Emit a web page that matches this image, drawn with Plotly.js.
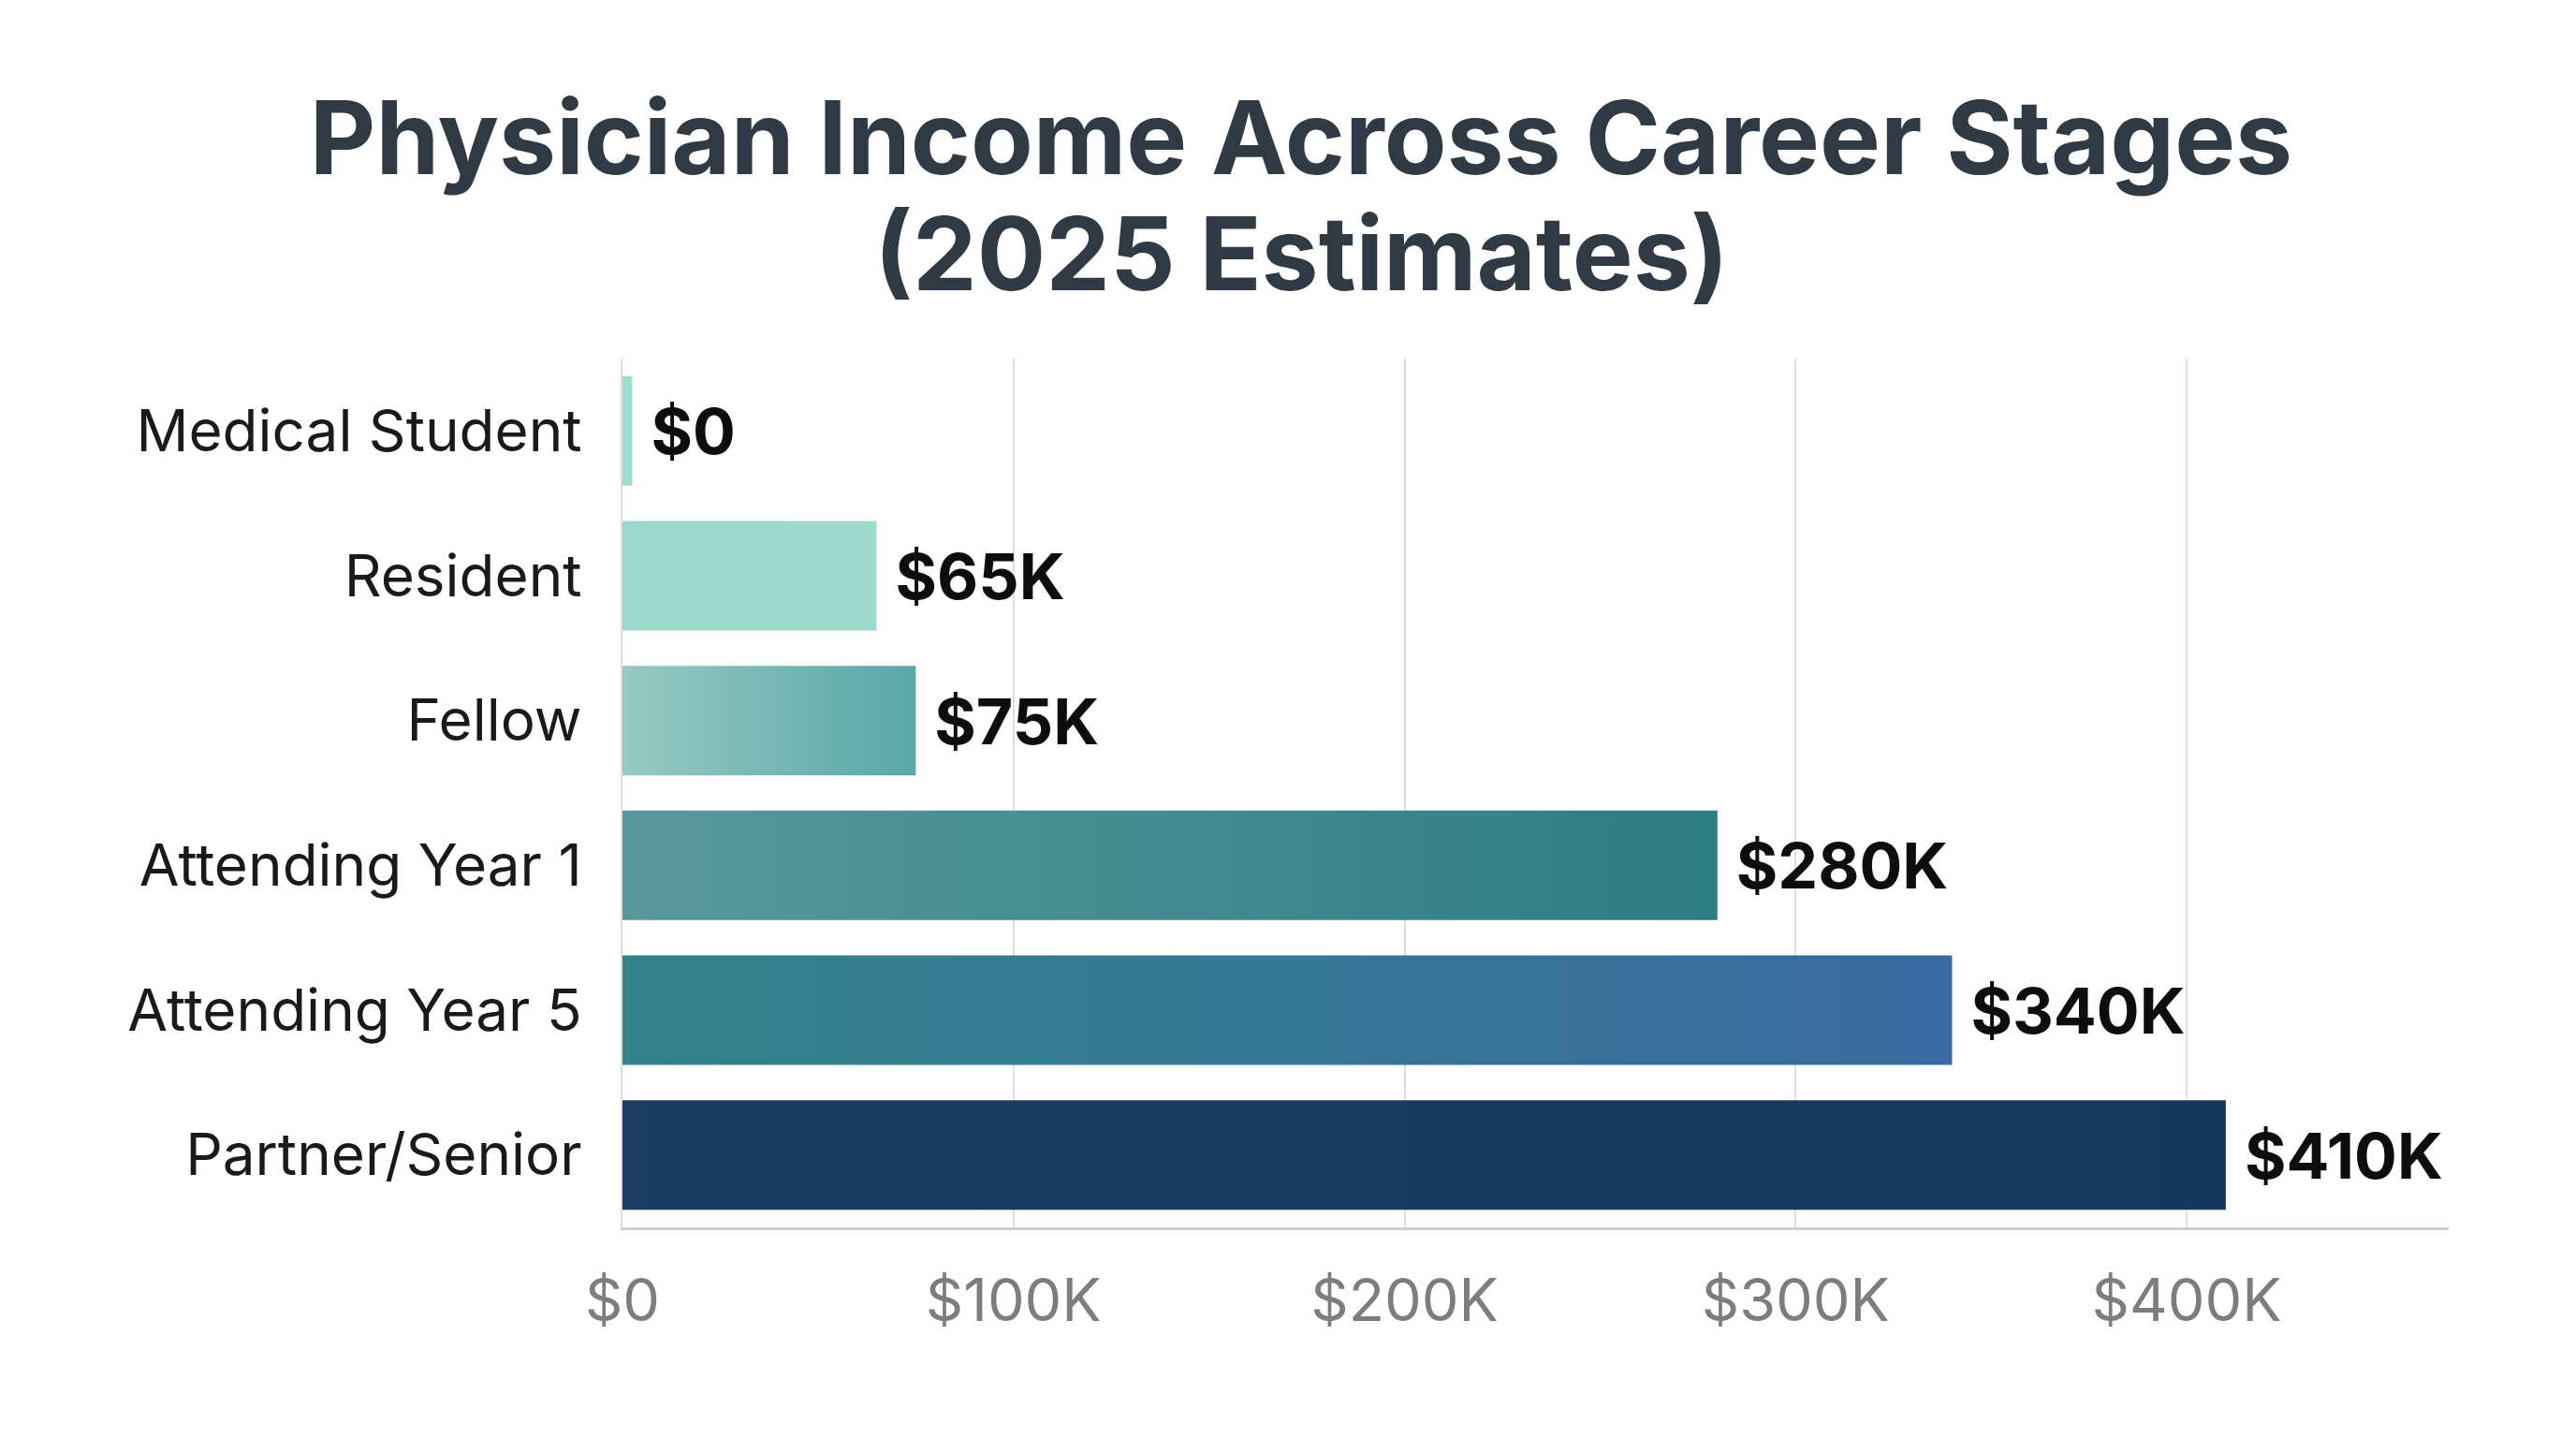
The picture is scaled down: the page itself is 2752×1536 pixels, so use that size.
<!DOCTYPE html>
<html>
<head>
<meta charset="utf-8">
<script src="https://cdn.plot.ly/plotly-3.0.1.min.js"></script>
<style>
html,body{margin:0;padding:0;background:#ffffff;}
#chart{width:2752px;height:1536px;}
</style>
</head>
<body>
<div id="chart"></div>
<script>
const stages = ["Medical Student", "Resident", "Fellow", "Attending Year 1", "Attending Year 5", "Partner/Senior"];
const incomes = [0, 65000, 75000, 280000, 340000, 410000];
const incomeLabels = ["$0", "$65K", "$75K", "$280K", "$340K", "$410K"];
const barColors = ["#9ddbcc", "#9cdacc", "#76b8b5", "#448c90", "#35798f", "#183a5c"];
const gradientStarts = ["#9edccf", "#9bd9ca", "#96c9c3", "#58989c", "#33838a", "#1a3c5e"];
const gradientEnds = ["#9edccf", "#a0dbcd", "#58a8a7", "#2d7d84", "#396ba1", "#16395b"];
const tickValues = [0, 100000, 200000, 300000, 400000];
const tickLabels = ["$0", "$100K", "$200K", "$300K", "$400K"];
const titleLine1 = "Physician Income Across Career Stages";
const titleLine2 = "(2025 Estimates)";

// a zero income is still shown as a thin sliver, as in the reference
const minVisible = 2500;
const barLengths = incomes.map(v => Math.max(v, minVisible));

const FONT = "Inter, 'Noto Sans', sans-serif";
const W = 2752, H = 1536;
const M = {l: 665, r: 136, t: 383, b: 225};
const TITLE_CX = 1390;

const trace = {
  type: "bar",
  orientation: "h",
  y: stages,
  x: barLengths,
  text: incomeLabels.map(t => "\u2005" + t),
  textposition: "outside",
  constraintext: "none",
  cliponaxis: false,
  textfont: {family: FONT, size: 68, color: "#0d0d0d", weight: 700},
  marker: {color: barColors, line: {width: 0}},
  hoverinfo: "none"
};

const layout = {
  width: W,
  height: H,
  paper_bgcolor: "#ffffff",
  plot_bgcolor: "#ffffff",
  margin: {l: M.l, r: M.r, t: M.t, b: M.b, pad: 0},
  bargap: 0.243,
  showlegend: false,
  title: {
    text: titleLine1,
    x: TITLE_CX / W,
    xanchor: "center",
    yref: "container",
    y: 0.904,
    yanchor: "middle",
    font: {family: FONT, size: 109, color: "#2f3a44", weight: 700}
  },
  annotations: [{
    text: titleLine2,
    xref: "paper", yref: "paper",
    x: (TITLE_CX - M.l) / (W - M.l - M.r),
    y: (H - M.b - 270) / (H - M.t - M.b),
    xanchor: "center", yanchor: "middle",
    showarrow: false,
    font: {family: FONT, size: 109, color: "#2f3a44", weight: 700}
  }],
  xaxis: {
    range: [0, 467000],
    tickvals: tickValues,
    ticktext: tickLabels,
    showgrid: true,
    gridcolor: "#dedede",
    gridwidth: 2,
    zeroline: false,
    showline: true,
    linecolor: "#d0d0d0",
    linewidth: 3,
    ticks: "",
    ticklabelstandoff: 21,
    tickfont: {family: FONT, size: 63, color: "#7d7d7d"},
    fixedrange: true
  },
  yaxis: {
    autorange: "reversed",
    showgrid: false,
    zeroline: false,
    showline: true,
    linecolor: "#dedede",
    linewidth: 2,
    ticks: "",
    ticklabelstandoff: 29,
    tickfont: {family: FONT, size: 62, color: "#1a1a1a"},
    fixedrange: true
  }
};

function applyGradients(gd) {
  const svg = gd.querySelector("svg.main-svg");
  if (!svg) return;
  const ns = "http://www.w3.org/2000/svg";
  let defs = svg.querySelector("defs");
  if (!defs) { defs = document.createElementNS(ns, "defs"); svg.insertBefore(defs, svg.firstChild); }
  const paths = gd.querySelectorAll(".barlayer .trace .point path");
  paths.forEach((p, i) => {
    if (i >= gradientStarts.length) return;
    const id = "barGrad" + i;
    let g = document.getElementById(id);
    if (!g) {
      g = document.createElementNS(ns, "linearGradient");
      g.setAttribute("id", id);
      g.setAttribute("x1", "0"); g.setAttribute("y1", "0.5");
      g.setAttribute("x2", "1"); g.setAttribute("y2", "0.5");
      [[0, gradientStarts[i]], [1, gradientEnds[i]]].forEach(([o, c]) => {
        const s = document.createElementNS(ns, "stop");
        s.setAttribute("offset", String(o));
        s.setAttribute("stop-color", c);
        g.appendChild(s);
      });
      defs.appendChild(g);
    }
    p.style.fill = "url(#" + id + ")";
  });
}

Plotly.newPlot("chart", [trace], layout, {displayModeBar: false, staticPlot: true}).then(applyGradients);
</script>
</body>
</html>
